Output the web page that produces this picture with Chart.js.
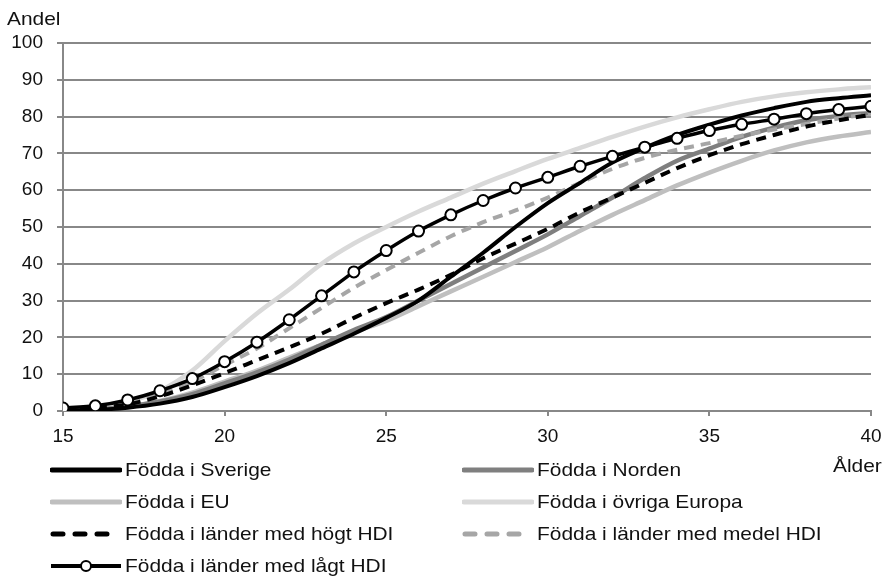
<!DOCTYPE html>
<html><head><meta charset="utf-8">
<script src="https://cdn.jsdelivr.net/npm/chart.js@4/dist/chart.umd.min.js"></script>
<style>
html,body{margin:0;padding:0;background:#fff;}
#wrap{position:relative;width:896px;height:578px;overflow:hidden;font-family:'Liberation Sans',Arial,sans-serif;color:#111;}
canvas{position:absolute;left:0;top:0;}
.lbl{position:absolute;font-size:18.5px;line-height:20px;white-space:nowrap;transform:scaleX(1.13);transform-origin:0 50%;}
.leg{position:absolute;height:20px;width:400px;}
.leg svg{position:absolute;left:0;top:0;}
.leg span{position:absolute;top:0;font-size:18.5px;line-height:20px;white-space:nowrap;transform:scaleX(1.13);transform-origin:0 50%;}
</style></head><body>
<div id="wrap">
<canvas id="c" width="896" height="578"></canvas>
<div class="lbl" style="left:7px;top:9px">Andel</div>
<div class="lbl" style="left:833px;top:456px">Ålder</div>
<div id="legend"></div>
</div>
<script>
// ---- data ----
const ages = [15,16,17,18,19,20,21,22,23,24,25,26,27,28,29,30,31,32,33,34,35,36,37,38,39,40];
const xTicks = [15,20,25,30,35,40];
const yTicks = [0,10,20,30,40,50,60,70,80,90,100];
const seriesNames = ["Födda i Sverige","Födda i Norden","Födda i EU","Födda i övriga Europa","Födda i länder med högt HDI","Födda i länder med medel HDI","Födda i länder med lågt HDI"];
const sverige = [0.1,0.3,0.9,2,3.8,6.5,9.5,13,17,21,25.3,30,36.5,43,50,56.5,62,67.5,71.5,75,77.8,80.3,82.3,84,85,85.8];
const norden  = [0.1,0.4,1.2,2.6,4.6,7.5,10.5,14,18,22,25.5,30,34.5,39,43.5,48,53,58,63.3,68,71.3,74.5,77,79,80.2,81];
const eu      = [0.1,0.4,1.2,2.7,5,8,11,14.5,18,21.5,24.5,28.5,32.5,36.5,40.5,44.5,49,53.3,57.3,61.3,64.8,68,70.8,73,74.6,75.8];
const ovrigaEuropa = [0.3,1,2.5,5.5,11,19,26.5,33,40,45.5,50,54.2,58,61.8,65.2,68.5,71.5,74.5,77.3,79.8,82,84,85.5,86.6,87.4,88];
const hogtHDI  = [0.3,0.8,1.8,4,7,10.3,13.8,17.3,21,25.3,29.3,33,37,41.5,45.5,49.5,54,58,62,66,69.5,72.5,75,77.3,79,80.5];
const medelHDI = [0.3,0.9,2,4.5,8,12.5,17,22.5,28,33.5,38.3,43,47.5,51.3,54.5,58,62,65.8,68.8,71,72.8,74.8,76.5,78,79.5,80.8];
const lagtHDI  = [0.8,1.4,3.0,5.5,8.8,13.4,18.7,24.8,31.3,37.8,43.6,48.9,53.3,57.2,60.6,63.5,66.5,69.2,71.7,74.1,76.2,77.9,79.3,80.8,81.9,82.8];

// ---- styles ----
const styles = [
  {color:'#000000', width:4, dash:[], order:1},
  {color:'#7f7f7f', width:4.5, dash:[], order:4},
  {color:'#bfbfbf', width:4.5, dash:[], order:5},
  {color:'#d9d9d9', width:4.5, dash:[], order:6},
  {color:'#000000', width:4, dash:[10,7], order:2},
  {color:'#a6a6a6', width:4, dash:[10,7], order:3},
  {color:'#000000', width:3.5, dash:[], order:0, marker:true}
];
const allSeries = [sverige,norden,eu,ovrigaEuropa,hogtHDI,medelHDI,lagtHDI];

const datasets = allSeries.map((vals,i)=>{
  const s = styles[i];
  return {
    label: seriesNames[i],
    data: ages.map((a,k)=>({x:a,y:vals[k]})),
    borderColor: s.color,
    backgroundColor: s.color,
    borderWidth: s.width,
    borderDash: s.dash,
    borderCapStyle: 'butt',
    order: s.order,
    fill: false,
    tension: s.marker ? 0.2 : 0.4,
    cubicInterpolationMode: s.marker ? 'default' : 'monotone',
    pointRadius: s.marker ? 5.5 : 0,
    pointHoverRadius: s.marker ? 5.5 : 0,
    pointBackgroundColor: '#ffffff',
    pointBorderColor: '#000000',
    pointBorderWidth: 2
  };
});

const font = {family:"'Liberation Sans', Arial, sans-serif", size:19};
new Chart(document.getElementById('c'), {
  type:'line',
  data:{datasets},
  options:{
    responsive:false,
    animation:false,
    layout:{padding:{top:43,right:25,bottom:127,left:0}},
    plugins:{legend:{display:false},tooltip:{enabled:false}},
    scales:{
      x:{
        type:'linear', min:15, max:40,
        afterBuildTicks: s => { s.ticks = xTicks.map(v=>({value:v})); },
        afterFit: s => { s.height = 40; },
        ticks:{font, color:'#111', padding:9, maxRotation:0},
        grid:{drawOnChartArea:false, drawTicks:true, tickLength:5, color:'#888', lineWidth:2},
        border:{display:true, color:'#888', width:2}
      },
      y:{
        min:0, max:100,
        afterBuildTicks: s => { s.ticks = yTicks.map(v=>({value:v})); },
        afterFit: s => { s.width = 63; },
        ticks:{font, color:'#111', padding:14},
        grid:{color:'#888', lineWidth:2, tickLength:6},
        border:{display:true, color:'#888', width:2}
      }
    }
  }
});

// ---- HTML legend ----
const legend = document.getElementById('legend');
const colX = [50, 462];
const rowY = [460, 492, 524, 556];
seriesNames.forEach((name,i)=>{
  const s = styles[i];
  const col = i%2, row = Math.floor(i/2);
  const d = document.createElement('div');
  d.className='leg';
  d.style.left = colX[col]+'px';
  d.style.top = rowY[row]+'px';
  let svg;
  if (s.dash.length) {
    svg = `<svg width="72" height="20"><line x1="3" y1="10" x2="69" y2="10" stroke="${s.color}" stroke-width="5" stroke-linecap="round" stroke-dasharray="10 12"/></svg>`;
  } else if (s.marker) {
    svg = `<svg width="72" height="20"><line x1="1" y1="10" x2="71" y2="10" stroke="#000" stroke-width="4"/><circle cx="36" cy="10" r="5" fill="#fff" stroke="#000" stroke-width="2"/></svg>`;
  } else {
    svg = `<svg width="72" height="20"><line x1="2" y1="10" x2="70" y2="10" stroke="${s.color}" stroke-width="5" stroke-linecap="round"/></svg>`;
  }
  d.innerHTML = svg + `<span style="left:75px">${name}</span>`;
  legend.appendChild(d);
});
</script>
</body></html>
